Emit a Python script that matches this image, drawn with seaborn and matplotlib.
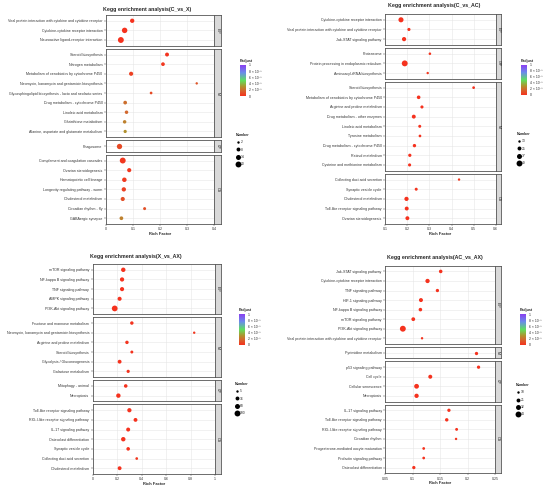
import numpy as np
import pandas as pd
import matplotlib
matplotlib.use("Agg")
import matplotlib.pyplot as plt
import seaborn as sns
from matplotlib.colors import LinearSegmentedColormap, Normalize
from matplotlib.cm import ScalarMappable
from matplotlib.lines import Line2D

# ---- data: C_vs_X ----
terms1 = ["Viral protein interaction with cytokine and cytokine receptor",
          "Cytokine-cytokine receptor interaction",
          "Neuroactive ligand-receptor interaction",
          "Steroid biosynthesis", "Nitrogen metabolism",
          "Metabolism of xenobiotics by cytochrome P450",
          "Neomycin, kanamycin and gentamicin biosynthesis",
          "Glycosphingolipid biosynthesis - lacto and neolacto series",
          "Drug metabolism - cytochrome P450", "Linoleic acid metabolism",
          "Glutathione metabolism", "Alanine, aspartate and glutamate metabolism",
          "Phagosome",
          "Complement and coagulation cascades", "Ovarian steroidogenesis",
          "Hematopoietic cell lineage", "Longevity regulating pathway - worm",
          "Cholesterol metabolism", "Circadian rhythm - fly", "GABAergic synapse"]
class1 = ["EIP"] * 3 + ["M"] * 9 + ["CP"] + ["OS"] * 7
rich1 = [0.097, 0.069, 0.055, 0.226, 0.211, 0.093, 0.336, 0.167, 0.071, 0.076,
         0.069, 0.071, 0.048, 0.062, 0.086, 0.068, 0.066, 0.062, 0.143, 0.057]
count1 = [10, 17, 20, 8, 7, 9, 2, 3, 7, 6, 6, 5, 16, 20, 9, 11, 10, 9, 4, 7]
padj1 = [0.0, 0.0, 0.0, 0.01, 0.02, 0.05, 0.12, 0.08, 0.2, 0.18,
         0.25, 0.3, 0.08, 0.02, 0.02, 0.03, 0.05, 0.1, 0.1, 0.25]
breaks1 = [2, 8, 14, 20]

# ---- data: C_vs_AC ----
terms2 = ["Cytokine-cytokine receptor interaction",
          "Viral protein interaction with cytokine and cytokine receptor",
          "Jak-STAT signaling pathway",
          "Proteasome", "Protein processing in endoplasmic reticulum",
          "Aminoacyl-tRNA biosynthesis",
          "Steroid biosynthesis", "Metabolism of xenobiotics by cytochrome P450",
          "Arginine and proline metabolism", "Drug metabolism - other enzymes",
          "Linoleic acid metabolism", "Tyrosine metabolism",
          "Drug metabolism - cytochrome P450", "Retinol metabolism",
          "Cysteine and methionine metabolism",
          "Collecting duct acid secretion", "Synaptic vesicle cycle",
          "Cholesterol metabolism", "Toll-like receptor signaling pathway",
          "Ovarian steroidogenesis"]
class2 = ["EIP"] * 3 + ["GIP"] * 3 + ["M"] * 9 + ["OS"] * 5
rich2 = [0.171, 0.207, 0.185, 0.302, 0.188, 0.292, 0.50, 0.251, 0.266, 0.229,
         0.256, 0.257, 0.232, 0.211, 0.21, 0.434, 0.24, 0.196, 0.197, 0.20]
count2 = [38, 18, 28, 14, 49, 10, 15, 22, 18, 25, 17, 15, 20, 19, 18, 10, 17, 28, 25, 25]
padj2 = [0.0, 0.01, 0.0, 0.01, 0.0, 0.02, 0.0, 0.0, 0.0, 0.0,
         0.0, 0.01, 0.0, 0.0, 0.0, 0.02, 0.01, 0.0, 0.0, 0.0]
breaks2 = [13, 25, 37, 49]

# ---- data: X_vs_AX ----
terms3 = ["mTOR signaling pathway", "NF-kappa B signaling pathway",
          "TNF signaling pathway", "AMPK signaling pathway",
          "PI3K-Akt signaling pathway",
          "Fructose and mannose metabolism",
          "Neomycin, kanamycin and gentamicin biosynthesis",
          "Arginine and proline metabolism", "Steroid biosynthesis",
          "Glycolysis / Gluconeogenesis", "Galactose metabolism",
          "Mitophagy - animal", "Necroptosis",
          "Toll-like receptor signaling pathway",
          "RIG-I-like receptor signaling pathway", "IL-17 signaling pathway",
          "Osteoclast differentiation", "Synaptic vesicle cycle",
          "Collecting duct acid secretion", "Cholesterol metabolism"]
class3 = ["EIP"] * 5 + ["M"] * 6 + ["CP"] * 2 + ["OS"] * 7
rich3 = [0.25, 0.24, 0.24, 0.22, 0.18, 0.32, 0.83, 0.28, 0.32, 0.22,
         0.29, 0.27, 0.21, 0.30, 0.35, 0.29, 0.25, 0.29, 0.36, 0.22]
count3 = [50, 45, 42, 40, 95, 25, 5, 25, 15, 35, 20, 28, 50, 45, 35, 38, 50, 28, 10, 35]
padj3 = [0.0, 0.0, 0.0, 0.0, 0.0, 0.01, 0.02, 0.01, 0.01, 0.0,
         0.01, 0.0, 0.0, 0.0, 0.0, 0.0, 0.0, 0.0, 0.02, 0.0]
breaks3 = [5, 36, 68, 100]

# ---- data: AC_vs_AX ----
terms4 = ["Jak-STAT signaling pathway", "Cytokine-cytokine receptor interaction",
          "TNF signaling pathway", "HIF-1 signaling pathway",
          "NF-kappa B signaling pathway", "mTOR signaling pathway",
          "PI3K-Akt signaling pathway",
          "Viral protein interaction with cytokine and cytokine receptor",
          "Pyrimidine metabolism",
          "p53 signaling pathway", "Cell cycle", "Cellular senescence", "Necroptosis",
          "IL-17 signaling pathway", "Toll-like receptor signaling pathway",
          "RIG-I-like receptor signaling pathway", "Circadian rhythm",
          "Progesterone-mediated oocyte maturation", "Prolactin signaling pathway",
          "Osteoclast differentiation"]
class4 = ["EIP"] * 8 + ["M"] + ["CP"] * 4 + ["OS"] * 7
rich4 = [0.151, 0.127, 0.145, 0.115, 0.114, 0.101, 0.082, 0.117, 0.216, 0.22,
         0.132, 0.107, 0.107, 0.166, 0.162, 0.18, 0.179, 0.12, 0.12, 0.102]
count4 = [18, 25, 16, 22, 18, 20, 44, 10, 16, 16, 22, 30, 25, 16, 17, 13, 10, 12, 12, 16]
padj4 = [0.0, 0.0, 0.0, 0.0, 0.0, 0.0, 0.0, 0.01, 0.0, 0.0,
         0.0, 0.0, 0.0, 0.0, 0.0, 0.0, 0.01, 0.0, 0.0, 0.0]
breaks4 = [10, 21, 32, 44]

padj_ticks = [0, 0.2, 0.4, 0.6, 0.8, 1]
padj_labels = ["0", "2 × 10⁻¹", "4 × 10⁻¹", "6 × 10⁻¹", "8 × 10⁻¹", "1"]

sns.set_theme(style="white")
plt.rcParams['font.family'] = ['Liberation Sans', 'DejaVu Sans']

cmap = LinearSegmentedColormap.from_list(
    "padj", [(0, "#F5321E"), (0.18, "#D2682E"), (0.3, "#B0922E"),
             (0.5, "#5EE05E"), (0.75, "#6A8CEA"), (1, "#8A3FF0")])
SIZES = (3, 18)

W, H = 550, 490
fig = plt.figure(figsize=(5.5, 4.9), dpi=100)


def px(x0, y0, x1, y1):
    return [x0 / W, 1 - y1 / H, (x1 - x0) / W, (y1 - y0) / H]


def draw(terms, groups, rich, count, padj, breaks, title, xlim, xticks, xlabels, lay):
    df = pd.DataFrame({"term": terms, "group": groups, "rich": rich,
                       "count": count, "padj": padj})
    x0, x1, s1, top, bottom = lay["box"]
    order = list(dict.fromkeys(groups))
    units = [(df.group == g).sum() + 0.2 for g in order]
    gap = 3
    scale = (bottom - top - gap * (len(order) - 1)) / sum(units)
    y = top
    for i, g in enumerate(order):
        sub = df[df.group == g]
        n = len(sub)
        h = units[i] * scale
        ax = fig.add_axes(px(x0, y, x1, y + h))
        sns.scatterplot(data=sub, x="rich", y="term", hue="padj", size="count",
                        palette=cmap, hue_norm=(0, 1), sizes=SIZES,
                        size_norm=(breaks[0], breaks[-1]), linewidth=0,
                        legend=False, ax=ax, zorder=3)
        ax.set_xlim(*xlim)
        ax.set_ylim(n - 0.4, -0.6)
        ax.set_xticks(xticks)
        ax.grid(True, color="#e6e6e6", lw=0.4)
        ax.set_axisbelow(True)
        ax.set_xlabel("")
        ax.set_ylabel("")
        for sp in ax.spines.values():
            sp.set_color("#555555")
            sp.set_linewidth(0.6)
        ax.tick_params(axis="y", labelsize=2.6, length=1.5, width=0.3, pad=1,
                       colors="#333333", left=True)
        last = i == len(order) - 1
        ax.tick_params(axis="x", labelsize=2.6, length=1.5 if last else 0,
                       width=0.3, pad=1, colors="#333333", bottom=last,
                       labelbottom=last)
        if last:
            ax.set_xticklabels(xlabels)
        sax = fig.add_axes(px(x1, y, s1, y + h))
        sax.set_facecolor("#d9d9d9")
        sax.set_xticks([])
        sax.set_yticks([])
        for sp in sax.spines.values():
            sp.set_color("#555555")
            sp.set_linewidth(0.6)
        sax.text(0.5, 0.5, g, rotation=-90, ha="center", va="center",
                 fontsize=2.6, color="#1a1a1a", transform=sax.transAxes)
        y += h + gap

    tx, ty = lay["title"]
    fig.text(tx / W, 1 - ty / H, title, ha="center", va="center",
             fontsize=3.8, fontweight="bold")
    fig.text((x0 + x1) / 2 / W, 1 - (bottom + 10) / H, "Rich Factor",
             ha="center", va="center", fontsize=2.9, fontweight="bold")

    cx, cy0, cy1 = lay["cbar"]
    cax = fig.add_axes(px(cx, cy0, cx + 6, cy1))
    cb = fig.colorbar(ScalarMappable(Normalize(0, 1), cmap), cax=cax, ticks=padj_ticks)
    cb.ax.set_yticklabels(padj_labels)
    cb.outline.set_visible(False)
    cb.ax.tick_params(labelsize=2.4, length=1, width=0.3, color="white", pad=1)
    fig.text(cx / W, 1 - (cy0 - 4) / H, "Padjust", fontsize=2.6,
             fontweight="bold", va="center")

    lx, ly = lay["size"]
    lo, hi = breaks[0], breaks[-1]
    handles = [Line2D([], [], marker="o", ls="", color="black", markeredgewidth=0,
                      markersize=np.sqrt(SIZES[0] + (b - lo) / (hi - lo) * (SIZES[1] - SIZES[0])))
               for b in breaks]
    leg = fig.legend(handles, [str(b) for b in breaks], loc="upper left",
                     bbox_to_anchor=(lx / W, 1 - ly / H), frameon=False,
                     fontsize=2.4, title="Number", title_fontsize=2.6,
                     labelspacing=1.0, handletextpad=0.4, handlelength=1.0,
                     borderpad=0, borderaxespad=0, alignment="left")
    leg.get_title().set_fontweight("bold")


draw(terms1, class1, rich1, count1, padj1, breaks1, "Kegg enrichment analysis(C_vs_X)",
     (0, 0.4), [0, 0.1, 0.2, 0.3, 0.4], ["0", "0.1", "0.2", "0.3", "0.4"],
     {"box": (106, 214, 221, 15, 224), "title": (147, 9),
      "cbar": (240, 65, 96), "size": (236, 133)})
draw(terms2, class2, rich2, count2, padj2, breaks2, "Kegg enrichment analysis(C_vs_AC)",
     (0.1, 0.6), [0.1, 0.2, 0.3, 0.4, 0.5, 0.6], ["0.1", "0.2", "0.3", "0.4", "0.5", "0.6"],
     {"box": (385.3, 495.7, 501.5, 14, 224), "title": (434, 6),
      "cbar": (521, 65, 95), "size": (517, 132)})
draw(terms3, class3, rich3, count3, padj3, breaks3, "Kegg enrichment analysis(X_vs_AX)",
     (0, 1), [0, 0.2, 0.4, 0.6, 0.8, 1], ["0", "0.2", "0.4", "0.6", "0.8", "1"],
     {"box": (92.7, 215, 221, 264, 474), "title": (136, 256),
      "cbar": (239, 314, 345), "size": (235, 382)})
draw(terms4, class4, rich4, count4, padj4, breaks4, "Kegg enrichment analysis(AC_vs_AX)",
     (0.05, 0.25), [0.05, 0.1, 0.15, 0.2, 0.25], ["0.05", "0.1", "0.15", "0.2", "0.25"],
     {"box": (385.3, 495, 500.5, 265.7, 473.3), "title": (435, 257),
      "cbar": (520, 314, 345), "size": (516, 383)})

fig.savefig("out.png", dpi=100, facecolor="white")
